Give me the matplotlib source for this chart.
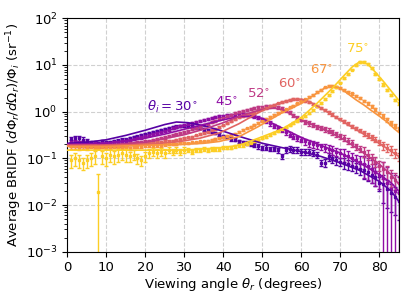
import numpy as np
import matplotlib
matplotlib.use("Agg")
import matplotlib.pyplot as plt

# ----------------------------------------------------------
# Data
# ----------------------------------------------------------

INCIDENT = [30, 45, 52, 60, 67, 75]
VIEW = list(range(1, 86))

# measured BRIDF, one value per degree (1..85)
DATA_30 = [0.26, 0.27, 0.27, 0.25, 0.23, 0.22, 0.22, 0.21, 0.23, 0.22,
           0.22, 0.23, 0.24, 0.25, 0.25, 0.27, 0.28, 0.29, 0.31, 0.33,
           0.35, 0.37, 0.39, 0.41, 0.43, 0.45, 0.46, 0.48, 0.49, 0.49,
           0.49, 0.48, 0.46, 0.45, 0.42, 0.40, 0.37, 0.35, 0.32, 0.30,
           0.28, 0.26, 0.25, 0.23, 0.22, 0.21, 0.20, 0.19, 0.18, 0.17,
           0.17, 0.16, 0.16, 0.15, 0.11, 0.15, 0.16, 0.15, 0.15, 0.14,
           0.14, 0.14, 0.13, 0.12, 0.08, 0.08, 0.11, 0.10, 0.09, 0.085,
           0.08, 0.075, 0.07, 0.065, 0.06, 0.055, 0.05, 0.045, 0.04, 0.03,
           0.028, 0.022, 0.018, 0.015, 0.012]
DATA_45 = [0.22, 0.22, 0.21, 0.21, 0.21, 0.20, 0.21, 0.20, 0.21, 0.21,
           0.21, 0.22, 0.22, 0.23, 0.24, 0.25, 0.26, 0.27, 0.28, 0.30,
           0.31, 0.33, 0.35, 0.37, 0.39, 0.41, 0.44, 0.47, 0.50, 0.53,
           0.55, 0.58, 0.61, 0.64, 0.67, 0.70, 0.73, 0.76, 0.79, 0.81,
           0.83, 0.85, 0.86, 0.87, 0.87, 0.86, 0.83, 0.79, 0.74, 0.68,
           0.62, 0.56, 0.50, 0.45, 0.40, 0.36, 0.32, 0.29, 0.27, 0.25,
           0.23, 0.21, 0.20, 0.19, 0.18, 0.17, 0.16, 0.15, 0.14, 0.13,
           0.12, 0.11, 0.10, 0.09, 0.085, 0.075, 0.068, 0.06, 0.05, 0.045,
           0.038, 0.03, 0.022, 0.02, 0.018]
DATA_52 = [0.20, 0.20, 0.19, 0.19, 0.19, 0.19, 0.19, 0.18, 0.19, 0.19,
           0.19, 0.19, 0.19, 0.20, 0.20, 0.21, 0.21, 0.22, 0.22, 0.23,
           0.24, 0.25, 0.26, 0.27, 0.28, 0.30, 0.31, 0.33, 0.35, 0.37,
           0.39, 0.42, 0.45, 0.48, 0.51, 0.55, 0.59, 0.64, 0.69, 0.74,
           0.80, 0.86, 0.92, 0.98, 1.04, 1.10, 1.15, 1.20, 1.24, 1.27,
           1.29, 1.30, 1.29, 1.25, 1.18, 1.08, 0.96, 0.84, 0.74, 0.67,
           0.61, 0.56, 0.52, 0.48, 0.45, 0.42, 0.39, 0.36, 0.33, 0.30,
           0.27, 0.24, 0.21, 0.18, 0.16, 0.14, 0.12, 0.10, 0.085, 0.07,
           0.06, 0.05, 0.04, 0.035, 0.03]
DATA_60 = [0.19, 0.19, 0.19, 0.19, 0.18, 0.19, 0.19, 0.18, 0.18, 0.19,
           0.19, 0.19, 0.19, 0.19, 0.19, 0.20, 0.20, 0.20, 0.20, 0.21,
           0.21, 0.21, 0.22, 0.22, 0.23, 0.23, 0.24, 0.25, 0.26, 0.27,
           0.28, 0.29, 0.31, 0.33, 0.35, 0.37, 0.40, 0.43, 0.47, 0.51,
           0.56, 0.62, 0.68, 0.75, 0.80, 0.86, 0.92, 0.98, 1.05, 1.12,
           1.20, 1.30, 1.40, 1.50, 1.60, 1.70, 1.78, 1.84, 1.86, 1.82,
           1.72, 1.60, 1.46, 1.32, 1.20, 1.08, 0.97, 0.87, 0.78, 0.70,
           0.62, 0.55, 0.49, 0.44, 0.39, 0.35, 0.31, 0.28, 0.25, 0.22,
           0.19, 0.17, 0.15, 0.13, 0.11]
DATA_67 = [0.18, 0.18, 0.17, 0.18, 0.17, 0.18, 0.17, 0.17, 0.18, 0.17,
           0.17, 0.18, 0.18, 0.17, 0.18, 0.16, 0.18, 0.18, 0.18, 0.19,
           0.19, 0.19, 0.19, 0.19, 0.20, 0.20, 0.20, 0.20, 0.21, 0.21,
           0.21, 0.22, 0.22, 0.23, 0.23, 0.24, 0.25, 0.26, 0.27, 0.28,
           0.30, 0.32, 0.34, 0.37, 0.40, 0.44, 0.48, 0.53, 0.58, 0.64,
           0.70, 0.77, 0.85, 0.93, 1.02, 1.12, 1.23, 1.35, 1.50, 1.66,
           1.84, 2.05, 2.30, 2.60, 2.95, 3.30, 3.55, 3.60, 3.45, 3.20,
           2.95, 2.70, 2.45, 2.20, 1.95, 1.70, 1.50, 1.30, 1.12, 0.95,
           0.80, 0.68, 0.58, 0.50, 0.43]
DATA_75 = [0.09, 0.10, 0.09, 0.08, 0.09, 0.10, 0.11, 0.019, 0.11, 0.10,
           0.12, 0.11, 0.12, 0.13, 0.12, 0.11, 0.12, 0.10, 0.09, 0.11,
           0.13, 0.14, 0.13, 0.14, 0.13, 0.15, 0.14, 0.15, 0.14, 0.15,
           0.15, 0.14, 0.15, 0.15, 0.16, 0.15, 0.16, 0.16, 0.16, 0.17,
           0.17, 0.17, 0.18, 0.19, 0.19, 0.20, 0.21, 0.23, 0.25, 0.27,
           0.29, 0.32, 0.35, 0.38, 0.42, 0.46, 0.51, 0.57, 0.64, 0.72,
           0.82, 0.95, 1.10, 1.30, 1.55, 1.85, 2.25, 2.75, 3.40, 4.20,
           5.20, 6.40, 8.00, 10.0, 11.5, 11.8, 10.5, 8.5, 6.5, 5.0,
           3.8, 2.9, 2.3, 1.8, 1.5]

# relative error, one value per 5-degree bin (1-5, 6-10, ..., 81-85)
RELERR_30 = [0.12, 0.08, 0.08, 0.07, 0.06, 0.06, 0.06, 0.07, 0.08, 0.10,
             0.12, 0.15, 0.15, 0.20, 0.25, 0.35, 0.60]
RELERR_45 = [0.10, 0.08, 0.08, 0.06, 0.05, 0.05, 0.05, 0.05, 0.06, 0.08,
             0.10, 0.12, 0.15, 0.20, 0.30, 0.50, 1.20]
RELERR_52 = [0.08, 0.07, 0.07, 0.06, 0.05, 0.05, 0.05, 0.05, 0.05, 0.06,
             0.07, 0.08, 0.10, 0.12, 0.15, 0.25, 0.40]
RELERR_60 = [0.08, 0.07, 0.07, 0.05, 0.05, 0.05, 0.04, 0.04, 0.04, 0.04,
             0.04, 0.05, 0.05, 0.06, 0.08, 0.12, 0.20]
RELERR_67 = [0.10, 0.08, 0.08, 0.07, 0.06, 0.05, 0.04, 0.04, 0.04, 0.04,
             0.04, 0.04, 0.04, 0.04, 0.05, 0.06, 0.10]
RELERR_75 = [0.30, 0.30, 0.30, 0.25, 0.20, 0.15, 0.10, 0.08, 0.06, 0.05,
             0.05, 0.04, 0.04, 0.04, 0.04, 0.05, 0.06]
# one yellow point at 8 deg with an error bar running off the bottom
OUTLIER_75 = (8, 0.027)

# model curves
LINE_X_30 = [0, 5, 10, 15, 20, 25, 28, 31, 35, 40, 45, 50, 55, 60, 65, 70,
             75, 80, 83, 85]
LINE_Y_30 = [0.21, 0.22, 0.25, 0.31, 0.40, 0.53, 0.60, 0.58, 0.50, 0.38,
             0.28, 0.21, 0.17, 0.14, 0.11, 0.08, 0.055, 0.032, 0.02, 0.012]
LINE_X_45 = [0, 10, 20, 25, 30, 35, 40, 44, 47, 50, 55, 60, 65, 70, 75,
             80, 83, 85]
LINE_Y_45 = [0.20, 0.21, 0.27, 0.33, 0.42, 0.53, 0.67, 0.78, 0.80, 0.72,
             0.45, 0.28, 0.19, 0.13, 0.08, 0.045, 0.03, 0.02]
LINE_X_52 = [0, 10, 20, 30, 35, 40, 45, 50, 53, 55, 57, 60, 62, 65, 70,
             75, 80, 83, 85]
LINE_Y_52 = [0.19, 0.19, 0.22, 0.32, 0.42, 0.58, 0.85, 1.12, 1.20, 1.12,
             0.92, 0.66, 0.56, 0.45, 0.28, 0.15, 0.075, 0.045, 0.028]
LINE_X_60 = [0, 10, 20, 29, 34, 39, 44, 49, 54, 57, 60, 62, 65, 70, 75,
             80, 85]
LINE_Y_60 = [0.19, 0.19, 0.20, 0.23, 0.27, 0.35, 0.55, 0.95, 1.50, 1.75,
             1.85, 1.65, 1.20, 0.66, 0.37, 0.21, 0.11]
LINE_X_67 = [0, 10, 20, 30, 35, 39, 44, 49, 55, 60, 63, 66, 68, 70, 72,
             74, 76, 78, 80, 82, 84, 85]
LINE_Y_67 = [0.18, 0.18, 0.19, 0.20, 0.21, 0.23, 0.29, 0.48, 0.94, 1.50,
             2.20, 3.20, 3.50, 3.20, 2.40, 1.80, 1.40, 1.05, 0.80, 0.60,
             0.42, 0.36]
LINE_X_75 = [0, 10, 20, 30, 40, 44, 49, 55, 60, 64, 68, 71, 73, 75, 77,
             79, 81, 83, 85]
LINE_Y_75 = [0.15, 0.15, 0.15, 0.15, 0.17, 0.19, 0.27, 0.42, 0.75, 1.50,
             3.20, 6.00, 9.00, 11.8, 10.5, 7.00, 4.50, 2.80, 1.75]

DATA = [DATA_30, DATA_45, DATA_52, DATA_60, DATA_67, DATA_75]
RELERR = [RELERR_30, RELERR_45, RELERR_52, RELERR_60, RELERR_67, RELERR_75]
LINES_X = [LINE_X_30, LINE_X_45, LINE_X_52, LINE_X_60, LINE_X_67, LINE_X_75]
LINES_Y = [LINE_Y_30, LINE_Y_45, LINE_Y_52, LINE_Y_60, LINE_Y_67, LINE_Y_75]

LABELS = [r"$\theta_i = 30^{\circ}$", r"$45^{\circ}$", r"$52^{\circ}$",
          r"$60^{\circ}$", r"$67^{\circ}$", r"$75^{\circ}$"]
LABEL_POS = [(27.0, 1.28), (41.0, 1.6), (49.0, 2.3), (57.0, 3.9),
             (65.3, 7.8), (74.5, 22)]


# ----------------------------------------------------------
# Plot
# ----------------------------------------------------------

colors = plt.cm.plasma(np.linspace(0.15, 0.9, len(INCIDENT)))

fig = plt.figure(figsize=(4.15, 3.0), dpi=100)
ax = fig.add_axes([0.162, 0.161, 0.799, 0.778])

view = np.array(VIEW)

for k, theta in enumerate(INCIDENT):
    color = colors[k]
    values = np.array(DATA[k])
    rel = np.array(RELERR[k])[(view - 1) // 5]
    err = rel * values
    if theta == 75:
        err[OUTLIER_75[0] - 1] = OUTLIER_75[1]

    ax.errorbar(view, values, yerr=err, fmt="s", ms=1.6, color=color,
                ecolor=color, elinewidth=1.0, capsize=1.6, capthick=1.0,
                zorder=2)
    ax.plot(LINES_X[k], LINES_Y[k], color=color, lw=1.2, zorder=3)

    lx, ly = LABEL_POS[k]
    ax.text(lx, ly, LABELS[k], color=color, fontsize=9.5,
            ha="center", va="center")

ax.set_yscale("log")
ax.set_xlim(0, 85)
ax.set_ylim(1e-3, 1e2)
ax.set_xticks(np.arange(0, 81, 10))
ax.grid(True, which="major", ls="--", color="#d0d0d0", lw=0.8)
ax.set_axisbelow(True)
ax.tick_params(labelsize=9.5)

ax.set_xlabel(r"Viewing angle $\theta_r$ (degrees)", fontsize=9.5,
              labelpad=1)
ax.set_ylabel(r"Average BRIDF $(d\Phi_r/d\Omega_r)/\Phi_i$ (sr$^{-1}$)",
              fontsize=9.5, labelpad=1)

fig.savefig("out.png", dpi=100)
